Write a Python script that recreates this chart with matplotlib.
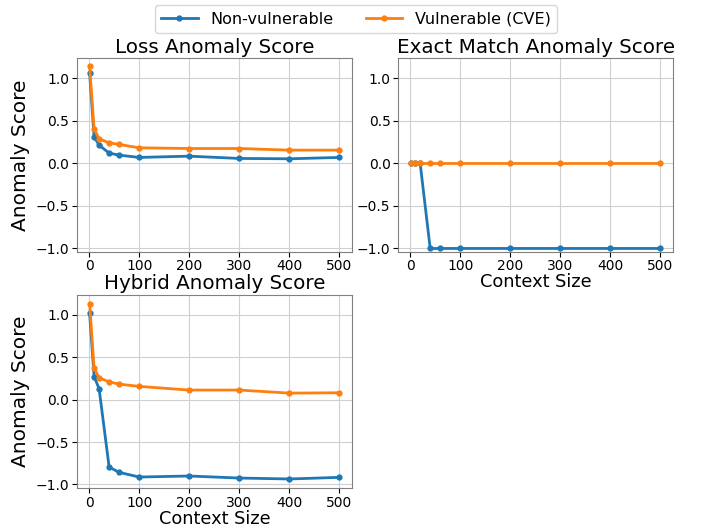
import numpy as np
import matplotlib
matplotlib.use("Agg")
import matplotlib.pyplot as plt

context_sizes = [1, 10, 20, 40, 60, 100, 200, 300, 400, 500]

loss_nonvuln = [1.067, 0.314, 0.216, 0.122, 0.098, 0.071, 0.086, 0.059, 0.055, 0.071]
loss_vuln = [1.149, 0.408, 0.290, 0.243, 0.224, 0.184, 0.176, 0.176, 0.157, 0.157]

exact_nonvuln = [0.0, 0.0, 0.0, -1.0, -1.0, -1.0, -1.0, -1.0, -1.0, -1.0]
exact_vuln = [0.0, 0.0, 0.0, 0.0, 0.0, 0.0, 0.0, 0.0, 0.0, 0.0]

hybrid_nonvuln = [1.018, 0.274, 0.129, -0.795, -0.857, -0.912, -0.900, -0.924, -0.935, -0.916]
hybrid_vuln = [1.135, 0.376, 0.258, 0.211, 0.184, 0.157, 0.114, 0.114, 0.078, 0.082]

titles = ["Loss Anomaly Score", "Exact Match Anomaly Score", "Hybrid Anomaly Score"]
series = [(loss_nonvuln, loss_vuln), (exact_nonvuln, exact_vuln), (hybrid_nonvuln, hybrid_vuln)]

fig = plt.figure(figsize=(7.01, 5.28), dpi=100)
ax1 = fig.add_axes([0.110, 0.523, 0.392, 0.367])
ax2 = fig.add_axes([0.568, 0.523, 0.392, 0.367])
ax3 = fig.add_axes([0.110, 0.076, 0.392, 0.366])
axes = [ax1, ax2, ax3]

for ax, title, (nv, v) in zip(axes, titles, series):
    ax.plot(context_sizes, nv, marker="o", markersize=3.5, linewidth=2, label="Non-vulnerable")
    ax.plot(context_sizes, v, marker="o", markersize=3.5, linewidth=2, label="Vulnerable (CVE)")
    ax.set_title(title, fontsize=14.3, pad=4)
    ax.set_ylim(-1.04, 1.24)
    ax.set_yticks([-1.0, -0.5, 0.0, 0.5, 1.0])
    ax.set_xticks([0, 100, 200, 300, 400, 500])
    ax.tick_params(labelsize=10, pad=2)
    ax.grid(True, color="#d0d0d0", linewidth=0.8)
    for s in ax.spines.values():
        s.set_color("#808080")

ax1.set_ylabel("Anomaly Score", fontsize=14.5, labelpad=4)
ax3.set_ylabel("Anomaly Score", fontsize=14.5, labelpad=4)
ax2.set_xlabel("Context Size", fontsize=12.8, labelpad=0)
ax3.set_xlabel("Context Size", fontsize=12.8, labelpad=0)

handles, labels = ax1.get_legend_handles_labels()
fig.legend(handles, labels, loc="upper center", bbox_to_anchor=(0.508, 1.005),
           ncol=2, fontsize=11.5, handlelength=2.3, columnspacing=2.0)

fig.savefig("out.png", dpi=100)
